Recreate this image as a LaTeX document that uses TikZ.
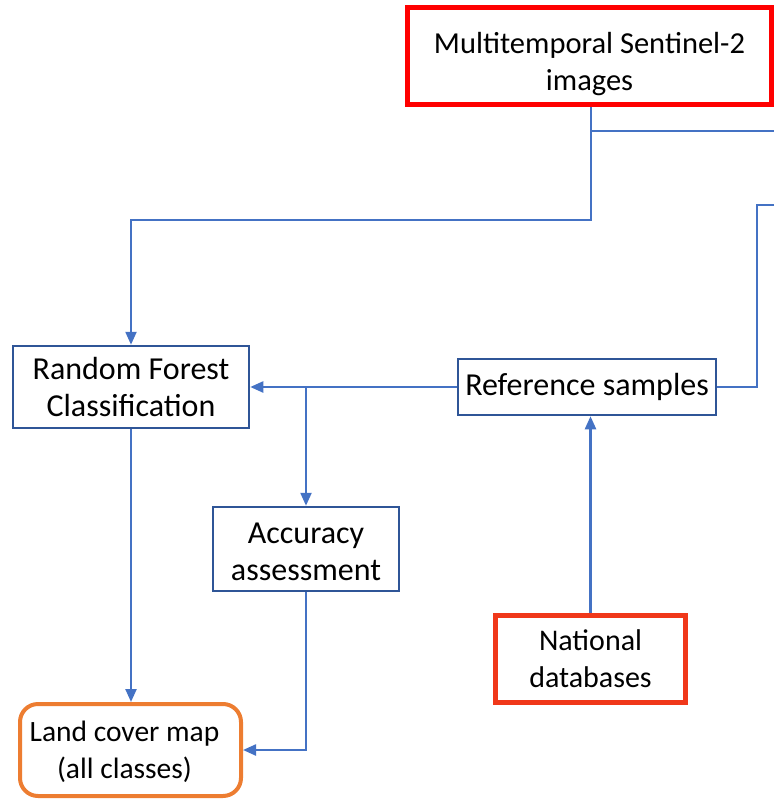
\documentclass[tikz,border=0pt]{standalone}
\usepackage{fontspec}
\setmainfont{Carlito}
\usetikzlibrary{arrows.meta}
\definecolor{lineblue}{HTML}{4472C4}
\definecolor{boxblue}{HTML}{2F5597}
\definecolor{topred}{HTML}{FF0000}
\definecolor{natred}{HTML}{F0381A}
\definecolor{landorange}{HTML}{ED7D31}
\tikzset{
  conn/.style={draw=lineblue, line width=2.3pt},
  arr/.style={conn, -{Triangle[length=13pt,width=11pt]}},
  bluebox/.style={draw=boxblue, line width=2.5pt, fill=white, inner sep=0pt, align=center,
    font=\fontsize{32}{37}\selectfont},
  boxtext/.style={align=center, inner sep=0pt},
}
\begin{document}
\begin{tikzpicture}[x=1pt,y=-1pt]
\useasboundingbox (0,0) rectangle (774,802);
\node[draw=topred, line width=5pt, fill=white, minimum width=364pt, minimum height=97pt, inner sep=0pt] (top) at (589.5,56) {};
\node[boxtext, font=\fontsize{30.5}{37}\selectfont] (toptext) at (589.5,64) {Multitemporal Sentinel-2\\images};
\node[bluebox, minimum width=236pt, minimum height=82pt] (rf) at (131,387) {Random Forest\\Classification};
\node[bluebox, minimum width=258pt, minimum height=56pt] (ref) at (587,387) {Reference samples};
\node[bluebox, minimum width=186pt, minimum height=84pt] (acc) at (306,549) {};
\node[boxtext, font=\fontsize{32}{37}\selectfont] (acctext) at (306,552) {Accuracy\\assessment};
\node[draw=landorange, line width=4pt, rounded corners=18pt, fill=white, minimum width=221pt, minimum height=92pt, inner sep=0pt] (land) at (130.5,750) {};
\node[boxtext, font=\fontsize{29.5}{37}\selectfont] (landtext) at (124.5,752) {Land cover map\\(all classes)};
\node[draw=natred, line width=5pt, fill=white, minimum width=190pt, minimum height=87pt, inner sep=0pt, align=center, font=\fontsize{30}{37}\selectfont] (nat) at (590.5,659) {National\\databases};
\coordinate (j1) at (591,220);
\coordinate (e1) at (774,131);
\coordinate (e2) at (774,205);
\coordinate (c2) at (757,387);
\draw[arr] (top.south -| j1) -- (j1) -| (rf.north);
\draw[conn] (j1 |- e1) -- (e1);
\draw[conn] (e2) -| (c2) -- (ref.east);
\draw[arr] (ref.west) -- (rf.east);
\draw[arr] (acc.north |- rf.east) -- (acc.north);
\draw[arr] (rf.south) -- (rf.south |- land.north);
\draw[arr] (acc.south) |- (land.east);
\draw[arr] (nat.north) -- (nat.north |- ref.south);
\end{tikzpicture}
\end{document}
